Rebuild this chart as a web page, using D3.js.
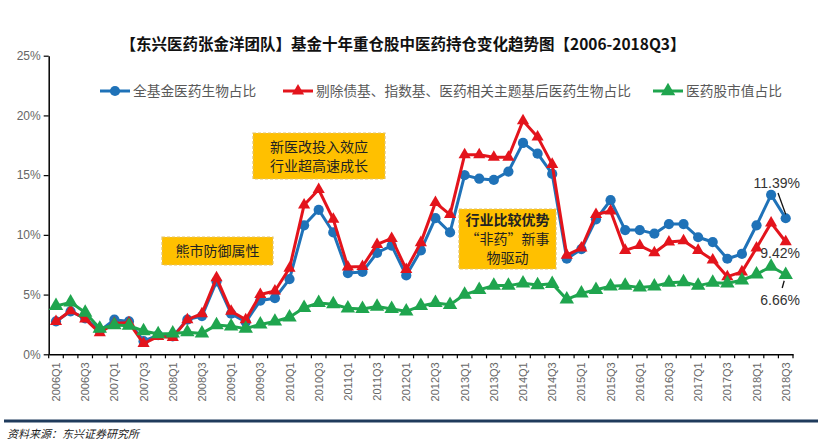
<!DOCTYPE html>
<html><head><meta charset="utf-8">
<script src="https://cdn.jsdelivr.net/npm/d3@7"></script>
<style>
body{margin:0;background:#fff;}
svg{display:block;font-family:"Noto Sans CJK SC","Noto Sans",sans-serif;}
</style></head>
<body><svg id="c" width="818" height="445"></svg>
<script>
const quarters = [];
for (let y = 2006; y <= 2018; y++) for (let q = 1; q <= 4; q++) { if (y === 2018 && q > 3) break; quarters.push(y + "Q" + q); }
const seriesNames = ["全基金医药生物占比", "剔除债基、指数基、医药相关主题基后医药生物占比", "医药股市值占比"];
const allFunds = [2.75,3.6,3.0,1.95,2.9,2.75,1.1,1.6,1.5,2.9,3.2,6.1,3.4,2.7,4.5,4.7,6.3,10.8,12.1,10.2,6.8,6.9,8.5,9.1,6.6,8.7,11.4,10.2,15.0,14.7,14.6,15.3,17.7,16.8,15.1,8.0,8.8,11.3,12.9,10.4,10.4,10.1,10.9,10.9,9.8,9.4,8.0,8.4,10.8,13.35,11.39];
const activeFunds = [2.75,3.65,2.95,1.8,2.6,2.65,0.9,1.5,1.4,2.9,3.4,6.4,3.6,2.9,5.0,5.3,7.2,12.5,13.8,11.3,7.3,7.35,9.2,9.7,7.1,9.35,12.7,11.7,16.7,16.7,16.5,16.5,19.55,18.2,15.9,8.3,8.9,11.7,12.0,8.7,9.1,8.5,9.4,9.5,8.7,7.9,6.5,6.9,8.9,11.0,9.42];
const marketCap = [4.05,4.35,3.5,2.15,2.45,2.4,1.95,1.7,1.75,1.85,1.75,2.45,2.35,2.15,2.5,2.75,3.1,3.9,4.3,4.2,3.85,3.8,4.0,3.8,3.6,4.05,4.3,4.15,5.0,5.4,5.75,5.75,5.95,5.8,5.9,4.6,5.1,5.4,5.7,5.75,5.6,5.7,6.0,6.05,5.75,6.0,5.95,6.2,6.7,7.35,6.66];
const yTicks = [0,5,10,15,20,25];
const endLabels = ["11.39%","9.42%","6.66%"];
const notes = [
  {lines:["熊市防御属性"], bold:[false]},
  {lines:["新医改投入效应","行业超高速成长"], bold:[false,false]},
  {lines:["行业比较优势","“非药”新事","物驱动"], bold:[true,false,false]}
];
const title = "【东兴医药张金洋团队】基金十年重仓股中医药持仓变化趋势图【2006-2018Q3】";
const source = "资料来源：东兴证券研究所";

const svg = d3.select("#c");
const L = 48.7, R = 793, T = 55.7, B = 354.3;
const x = d3.scaleBand().domain(quarters).range([L, R]);
const y = d3.scaleLinear().domain([0, 25]).range([B, T]);
const cx = q => x(q) + x.bandwidth() / 2;

// title
svg.append("text").attr("x", 403).attr("y", 50).attr("text-anchor", "middle")
  .attr("font-size", 15.5).attr("font-weight", "bold").attr("fill", "#111").text(title);

// y axis
const ya = svg.append("g").attr("transform", `translate(${L},0)`)
  .call(d3.axisLeft(y).tickValues(yTicks).tickFormat(d => d + "%").tickSize(5).tickSizeOuter(0));
ya.select(".domain").attr("stroke", "#000").attr("stroke-width", 1.5);
ya.selectAll(".tick line").attr("stroke", "#000").attr("stroke-width", 1.2);
ya.selectAll(".tick text").attr("font-size", 12).attr("fill", "#666").attr("x", -8)
  .attr("font-family", "Liberation Sans, Arial, sans-serif");

// x axis
const xa = svg.append("g").attr("transform", `translate(0,${B})`)
  .call(d3.axisBottom(x).tickValues([]).tickSizeOuter(0));
xa.select(".domain").attr("stroke", "#000").attr("stroke-width", 1.5);
const bounds = quarters.map(q => x(q)).concat([R]);
svg.append("g").selectAll("line").data(bounds).join("line")
  .attr("x1", d => d).attr("x2", d => d).attr("y1", B).attr("y2", B + 4)
  .attr("stroke", "#000").attr("stroke-width", 1.2);
svg.append("g").selectAll("text").data(quarters.filter((q, i) => i % 2 === 0)).join("text")
  .attr("transform", d => `translate(${cx(d) + 4},${B + 8}) rotate(-90)`)
  .attr("text-anchor", "end").attr("font-size", 11).attr("fill", "#666")
  .attr("font-family", "Liberation Sans, Arial, sans-serif").text(d => d);

// annotations
const boxPx = [[162, 237, 111, 28], [253, 133, 132, 46], [459, 209, 97, 60]];
notes.forEach((n, k) => {
  const [bx, by, bw, bh] = boxPx[k];
  const g = svg.append("g");
  g.append("rect").attr("x", bx).attr("y", by).attr("width", bw).attr("height", bh)
    .attr("fill", "#FFC000").attr("stroke", "#E3C46A").attr("stroke-width", 1.2).attr("stroke-dasharray", "3,2");
  const lh = 19;
  const startY = by + bh / 2 - (n.lines.length - 1) * lh / 2 + 5;
  n.lines.forEach((t, i) => {
    g.append("text").attr("x", bx + bw / 2).attr("y", startY + i * lh).attr("text-anchor", "middle")
      .attr("font-size", 14).attr("font-weight", n.bold[i] ? "bold" : "normal").attr("fill", "#222").text(t);
  });
});

// series
const colors = ["#1F72B8", "#E3141C", "#1FA54E"];
const data = [allFunds, activeFunds, marketCap];
const line = d3.line().x((d, i) => cx(quarters[i])).y(d => y(d));
const symbols = [d3.symbol(d3.symbolCircle, 82), d3.symbol(d3.symbolTriangle, 64), d3.symbol(d3.symbolTriangle, 90)];
data.forEach((s, k) => {
  svg.append("path").datum(s).attr("d", line).attr("fill", "none")
    .attr("stroke", colors[k]).attr("stroke-width", 3).attr("stroke-linejoin", "round");
  svg.append("g").selectAll("path").data(s).join("path")
    .attr("transform", (d, i) => `translate(${cx(quarters[i])},${y(d)})`)
    .attr("d", symbols[k]()).attr("fill", colors[k]);
});

// legend
const legX = [100, 283, 653];
seriesNames.forEach((nm, k) => {
  const g = svg.append("g").attr("transform", `translate(${legX[k]},91)`);
  g.append("line").attr("x1", 0).attr("x2", 30).attr("stroke", colors[k]).attr("stroke-width", 3);
  g.append("path").attr("transform", "translate(15,0)").attr("d", symbols[k]()).attr("fill", colors[k]);
  g.append("text").attr("x", 33).attr("y", 5).attr("font-size", 13.7).attr("fill", "#595959").text(nm);
});

// end labels
const lastQ = quarters[quarters.length - 1];
const lx = cx(lastQ);
svg.append("text").attr("x", 800).attr("y", 188).attr("text-anchor", "end").attr("font-size", 14)
  .attr("fill", "#333").attr("font-family", "Liberation Sans, Arial, sans-serif").text(endLabels[0]);
svg.append("line").attr("x1", 778).attr("y1", 193).attr("x2", lx).attr("y2", y(allFunds[50]) - 4)
  .attr("stroke", "#111").attr("stroke-width", 1.3);
svg.append("text").attr("x", 800).attr("y", 258).attr("text-anchor", "end").attr("font-size", 14)
  .attr("fill", "#333").attr("font-family", "Liberation Sans, Arial, sans-serif").text(endLabels[1]);
svg.append("text").attr("x", 800).attr("y", 305).attr("text-anchor", "end").attr("font-size", 14)
  .attr("fill", "#333").attr("font-family", "Liberation Sans, Arial, sans-serif").text(endLabels[2]);
svg.append("line").attr("x1", lx - 1.5).attr("y1", y(marketCap[50]) + 6).attr("x2", lx - 3.5).attr("y2", 288)
  .attr("stroke", "#111").attr("stroke-width", 1.3);

// footer
svg.append("line").attr("x1", 4).attr("x2", 818).attr("y1", 421).attr("y2", 421)
  .attr("stroke", "#1F3B5C").attr("stroke-width", 3);
svg.append("text").attr("x", 7).attr("y", 438).attr("font-size", 11).attr("font-style", "italic")
  .attr("fill", "#222").text(source);
</script></body></html>
